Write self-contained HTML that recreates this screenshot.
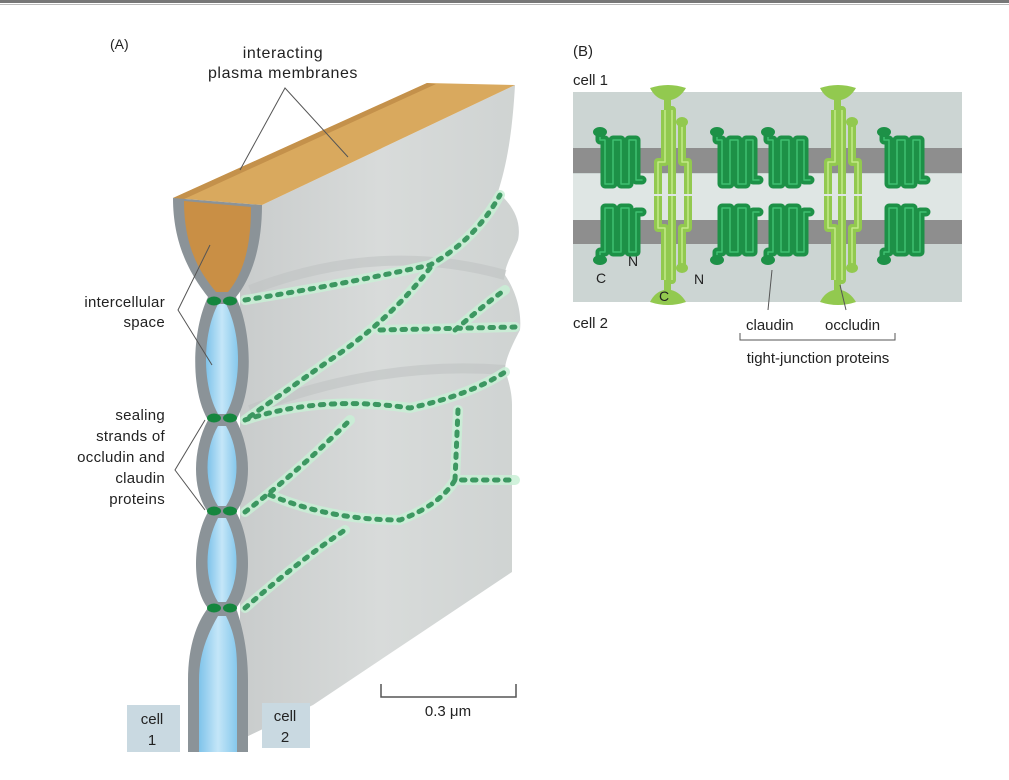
<!DOCTYPE html>
<html><head><meta charset="utf-8"><style>
html,body{margin:0;padding:0;background:#fff;}
svg{display:block;}
text{font-family:"Liberation Sans","DejaVu Sans",sans-serif;fill:#222;}
</style></head><body>
<svg width="1009" height="780" viewBox="0 0 1009 780" xmlns="http://www.w3.org/2000/svg">
<defs>
<linearGradient id="side" x1="0" y1="0" x2="1" y2="0">
<stop offset="0" stop-color="#c9cccc"/><stop offset="0.5" stop-color="#d8dbda"/><stop offset="1" stop-color="#cfd3d2"/>
</linearGradient>
<linearGradient id="blue" x1="0" y1="0" x2="1" y2="0">
<stop offset="0" stop-color="#7fc3ea"/><stop offset="0.5" stop-color="#c4e6f8"/><stop offset="1" stop-color="#86c8ec"/>
</linearGradient>
<g id="cla" fill="none" stroke-linejoin="round" stroke-linecap="round">
<path d="M4,0 L4,8 L9,8 L9,52 L17,52 L17,8 L25,8 L25,52 L33,52 L33,8 L40,8 L40,48 L46,48" stroke="#1d9147" stroke-width="9"/>
<path d="M4,0 L4,8 L9,8 L9,52 L17,52 L17,8 L25,8 L25,52 L33,52 L33,8 L40,8 L40,48 L46,48" stroke="#3fc070" stroke-width="1.5"/>
<ellipse cx="4" cy="0" rx="7" ry="5" fill="#1d9147"/>
</g>
<g id="occ" fill="none" stroke-linejoin="round">
<path d="M15,-12 L15,40 L8,40 L8,72 M15,-12 L22,-12 L22,72 M32,0 L32,40 L38,40 L38,72" stroke="#92c94f" stroke-width="8"/>
<path d="M15,-12 L15,40 L8,40 L8,72 M22,-12 L22,72 M32,0 L32,40 L38,40 L38,72" stroke="#c3ea88" stroke-width="1.5"/>
<path d="M0,-34 Q18,-40 36,-34 Q30,-24 21,-22 L21,-12 L14,-12 L14,-22 Q5,-24 0,-34Z" fill="#92c94f"/>
<ellipse cx="32" cy="0" rx="6" ry="5" fill="#92c94f"/>
</g>
</defs>
<rect x="0" y="0" width="1009" height="3" fill="#777"/>
<rect x="0" y="4" width="1009" height="1" fill="#bbb"/>

<!-- Panel A -->
<text x="110" y="49" font-size="14">(A)</text>
<text x="283" y="58" font-size="16" letter-spacing="0.6" text-anchor="middle">interacting</text>
<text x="283" y="78" font-size="16" letter-spacing="0.6" text-anchor="middle">plasma membranes</text>
<path d="M240,205 L262,205 L515,85 C512,140 505,170 498,192 C512,205 522,220 518,240 C512,255 505,265 505,275 C515,290 522,310 520,330 C512,345 505,360 505,370 C510,385 512,395 512,405 L512,572 L313,705 L240,740 Z" fill="url(#side)"/>
<path d="M250,290 Q380,240 505,275 M250,410 Q380,360 505,370" stroke="#bfc3c3" stroke-width="10" fill="none" opacity="0.6"/>
<path d="M173,198 L427,83 L515,85 L262,205 Z" fill="#d9a95e"/>
<path d="M173,198 L427,83 L436,84 L182,200 Z" fill="#c4914b"/>
<g fill="none" stroke-linecap="round">
<g stroke="#c9f0d6" stroke-width="10" opacity="0.85">
<path d="M245,300 Q340,285 430,265 Q475,240 500,195"/>
<path d="M430,268 Q390,320 330,360 Q280,395 245,420"/>
<path d="M380,330 L515,327"/>
<path d="M455,330 Q490,300 505,290"/>
<path d="M245,420 Q320,395 410,408 Q470,395 505,372"/>
<path d="M245,512 Q300,470 350,420"/>
<path d="M270,495 Q330,520 400,520 Q440,505 455,480 L515,480"/>
<path d="M458,410 L455,480"/>
<path d="M245,608 Q300,560 345,530"/>
</g>
<g stroke="#2d8f55" stroke-width="5" stroke-dasharray="3.5 7.5" opacity="0.9">
<path d="M245,300 Q340,285 430,265 Q475,240 500,195"/>
<path d="M430,268 Q390,320 330,360 Q280,395 245,420"/>
<path d="M380,330 L515,327"/>
<path d="M455,330 Q490,300 505,290"/>
<path d="M245,420 Q320,395 410,408 Q470,395 505,372"/>
<path d="M245,512 Q300,470 350,420"/>
<path d="M270,495 Q330,520 400,520 Q440,505 455,480 L515,480"/>
<path d="M458,410 L455,480"/>
<path d="M245,608 Q300,560 345,530"/>
</g>
</g>
<path d="M173,198 C173,250 195,280 208,297 C192,330 190,390 208,420 C192,450 192,490 208,512 C192,540 192,590 208,608 C195,625 188,650 188,680 L188,752 L248,752 L248,680 C248,650 242,625 236,608 C252,590 252,540 236,512 C252,490 252,450 236,420 C254,390 252,330 236,297 C250,280 262,250 262,205 Z" fill="#8b9398"/>
<path d="M184,201 C184,250 202,275 216,292 L228,292 C242,275 251,250 251,207 Z" fill="#c98f45"/>
<path d="M218,304 C202,335 202,385 218,414 L226,414 C242,385 242,335 226,304 Z" fill="url(#blue)"/>
<path d="M218,426 C204,450 204,485 218,506 L226,506 C240,485 240,450 226,426 Z" fill="url(#blue)"/>
<path d="M218,518 C204,545 204,580 218,602 L226,602 C240,580 240,545 226,518 Z" fill="url(#blue)"/>
<path d="M218,616 C204,640 199,660 199,680 L199,752 L237,752 L237,680 C237,660 238,640 226,616 Z" fill="url(#blue)"/>
<g fill="#15863e">
<ellipse cx="214" cy="301" rx="7" ry="4.5"/><ellipse cx="230" cy="301" rx="7" ry="4.5"/>
<ellipse cx="214" cy="418" rx="7" ry="4.5"/><ellipse cx="230" cy="418" rx="7" ry="4.5"/>
<ellipse cx="214" cy="511" rx="7" ry="4.5"/><ellipse cx="230" cy="511" rx="7" ry="4.5"/>
<ellipse cx="214" cy="608" rx="7" ry="4.5"/><ellipse cx="230" cy="608" rx="7" ry="4.5"/>
</g>
<g stroke="#555" stroke-width="1" fill="none">
<path d="M240,170 L285,88 L348,157"/>
<path d="M210,245 L178,310 L212,365"/>
<path d="M205,420 L175,470 L205,510"/>
</g>
<g font-size="15" text-anchor="end" letter-spacing="0.3">
<text x="165" y="307">intercellular</text>
<text x="165" y="327">space</text>
<text x="165" y="420">sealing</text>
<text x="165" y="441">strands of</text>
<text x="165" y="462">occludin and</text>
<text x="165" y="483">claudin</text>
<text x="165" y="504">proteins</text>
</g>
<rect x="127" y="705" width="53" height="47" fill="#c9d9e1"/>
<rect x="262" y="703" width="48" height="45" fill="#c9d9e1"/>
<g font-size="15" text-anchor="middle">
<text x="152" y="724">cell</text><text x="152" y="745">1</text>
<text x="285" y="721">cell</text><text x="285" y="742">2</text>
</g>
<path d="M381,684 L381,697 L516,697 L516,684" stroke="#555" stroke-width="1.5" fill="none"/>
<text x="448" y="716" font-size="15" text-anchor="middle">0.3 μm</text>

<!-- Panel B -->
<text x="573" y="56" font-size="15">(B)</text>
<text x="573" y="85" font-size="15">cell 1</text>
<text x="573" y="328" font-size="15">cell 2</text>
<rect x="573" y="92" width="389" height="210" fill="#ccd5d3"/>
<rect x="573" y="174" width="389" height="46" fill="#dfe6e4"/>
<rect x="573" y="148" width="389" height="25" fill="#8e8e8e"/>
<rect x="573" y="220" width="389" height="24" fill="#8e8e8e"/>
<use href="#occ" transform="translate(650,122)"/>
<use href="#occ" transform="translate(650,268) scale(1,-1)"/>
<use href="#occ" transform="translate(820,122)"/>
<use href="#occ" transform="translate(820,268) scale(1,-1)"/>
<use href="#cla" transform="translate(596,132)"/>
<use href="#cla" transform="translate(713,132)"/>
<use href="#cla" transform="translate(764,132)"/>
<use href="#cla" transform="translate(880,132)"/>
<use href="#cla" transform="translate(596,260) scale(1,-1)"/>
<use href="#cla" transform="translate(713,260) scale(1,-1)"/>
<use href="#cla" transform="translate(764,260) scale(1,-1)"/>
<use href="#cla" transform="translate(880,260) scale(1,-1)"/>
<g font-size="14" fill="#222">
<text x="596" y="283">C</text><text x="628" y="266">N</text>
<text x="659" y="301">C</text><text x="694" y="284">N</text>
</g>
<g stroke="#555" stroke-width="1" fill="none">
<path d="M772,270 L768,310"/>
<path d="M840,285 L846,310"/>
<path d="M740,333 L740,340 L895,340 L895,333"/>
</g>
<text x="746" y="330" font-size="15">claudin</text>
<text x="825" y="330" font-size="15">occludin</text>
<text x="818" y="363" font-size="15" text-anchor="middle">tight-junction proteins</text>
</svg>
</body></html>
